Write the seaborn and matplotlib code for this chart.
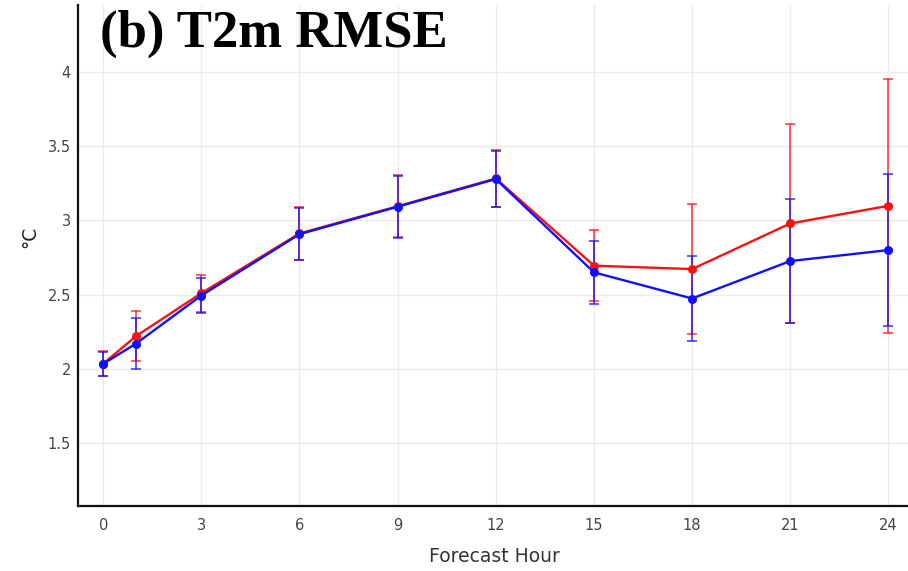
import numpy as np
import pandas as pd
import matplotlib
matplotlib.use("Agg")
import matplotlib.pyplot as plt
import seaborn as sns

hours = [0, 1, 3, 6, 9, 12, 15, 18, 21, 24]
red_rmse = [2.035, 2.22, 2.51, 2.912, 3.095, 3.282, 2.695, 2.672, 2.979, 3.098]
red_err = [0.085, 0.168, 0.125, 0.178, 0.21, 0.19, 0.238, 0.437, 0.667, 0.853]
blue_rmse = [2.034, 2.17, 2.494, 2.907, 3.092, 3.278, 2.65, 2.474, 2.726, 2.80]
blue_err = [0.083, 0.17, 0.118, 0.176, 0.21, 0.19, 0.21, 0.284, 0.42, 0.512]
xticks = [0, 3, 6, 9, 12, 15, 18, 21, 24]
yticks = [1.5, 2, 2.5, 3, 3.5, 4]
ytick_labels = ["1.5", "2", "2.5", "3", "3.5", "4"]
title = "(b) T2m RMSE"
xlabel = "Forecast Hour"
ylabel = "°C"

sns.set_theme(style="whitegrid")
plt.rcParams['font.family'] = ['DejaVu Sans']

fig = plt.figure(figsize=(9.08, 5.71), dpi=100)
ax = fig.add_axes([78/908, 1 - 506/571, 1 - 78/908, 506/571 - 5/571])

df = pd.DataFrame({"hour": hours * 2,
                   "rmse": red_rmse + blue_rmse,
                   "err": red_err + blue_err,
                   "series": ["red"] * len(hours) + ["blue"] * len(hours)})

colors = {"red": "#ff1010", "blue": "#1010ff"}
for name in ["red", "blue"]:
    sub = df[df.series == name]
    ax.errorbar(sub.hour, sub.rmse, yerr=sub.err, fmt="none",
                ecolor=colors[name], elinewidth=1.1, capsize=3.5, capthick=1.1,
                alpha=0.85, zorder=2)
    sns.lineplot(data=sub, x="hour", y="rmse", ax=ax, color=colors[name],
                 marker="o", markersize=6.5, markeredgewidth=0, linewidth=1.7,
                 zorder=3, legend=False)

ax.set_xlim(-0.77, 24.6)
ax.set_ylim(1.077, 4.45)
ax.set_xticks(xticks)
ax.set_xticklabels([str(t) for t in xticks])
ax.set_yticks(yticks)
ax.set_yticklabels(ytick_labels)
ax.tick_params(axis="both", length=0, labelsize=10.5, labelcolor="#444444")
ax.tick_params(axis="x", pad=9)
ax.tick_params(axis="y", pad=5)
ax.grid(True, color="#ebebeb", linewidth=1.0)
ax.set_facecolor("white")
for s in ["top", "right"]:
    ax.spines[s].set_visible(False)
for s in ["left", "bottom"]:
    ax.spines[s].set_visible(True)
    ax.spines[s].set_color("#111111")
    ax.spines[s].set_linewidth(1.6)

ax.set_xlabel(xlabel, fontsize=13.5, color="#333333")
ax.xaxis.label.set_va("center")
ax.xaxis.set_label_coords((494 - 78) / (908 - 78), -(557 - 506) / 501)
ax.set_ylabel(ylabel, fontsize=13.5, color="#222222")
ax.yaxis.label.set_va("center")
ax.yaxis.set_label_coords(-(78 - 30) / 830, (506 - 237) / 501)

fig.text(100/908, 1 - 47/571, title, fontsize=38, fontweight="bold",
         family=["Liberation Serif"], color="black", va="baseline", ha="left")

fig.savefig("out.png", dpi=100, facecolor="white")
